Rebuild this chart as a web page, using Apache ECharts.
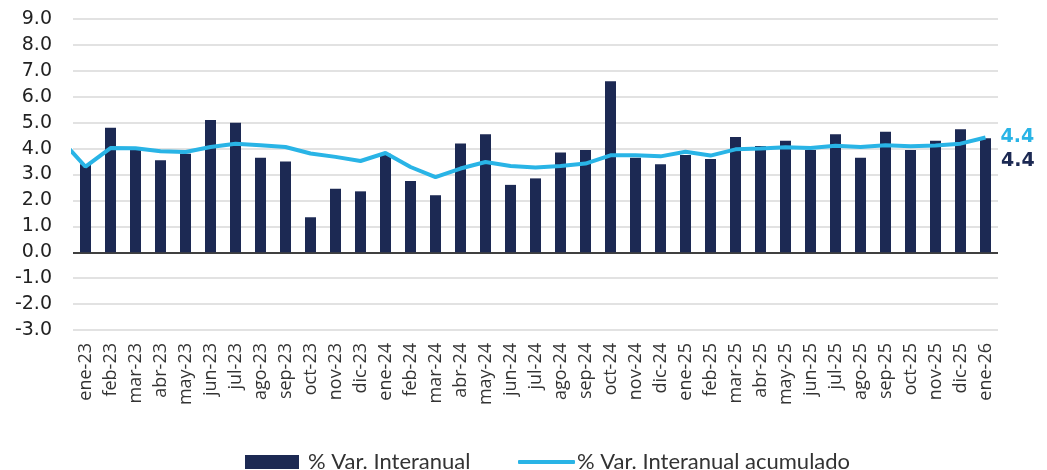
<!DOCTYPE html>
<html>
<head>
<meta charset="utf-8">
<script src="https://cdn.jsdelivr.net/npm/echarts@6/dist/echarts.min.js"></script>
<style>
  html, body { margin: 0; padding: 0; background: #fff; }
  #chart { width: 1047px; height: 470px; }
</style>
</head>
<body>
<div id="chart"></div>
<script>
// months shown on the axis
const months = [
  'ene-23','feb-23','mar-23','abr-23','may-23','jun-23','jul-23','ago-23','sep-23','oct-23','nov-23','dic-23',
  'ene-24','feb-24','mar-24','abr-24','may-24','jun-24','jul-24','ago-24','sep-24','oct-24','nov-24','dic-24',
  'ene-25','feb-25','mar-25','abr-25','may-25','jun-25','jul-25','ago-25','sep-25','oct-25','nov-25','dic-25',
  'ene-26'
];

// % Var. Interanual (bars)
const varInteranual = [
  3.4, 4.8, 3.95, 3.55, 3.8, 5.1, 5.0, 3.65, 3.5, 1.35, 2.45, 2.35,
  3.8, 2.75, 2.2, 4.2, 4.55, 2.6, 2.85, 3.85, 3.95, 6.6, 3.65, 3.4,
  3.75, 3.6, 4.45, 4.1, 4.3, 3.95, 4.55, 3.65, 4.65, 3.95, 4.3, 4.75,
  4.4
];

// % Var. Interanual acumulado (line); first value is dic-22, cut off at the left edge
const varAcumuladoPrev = 4.36;
const varAcumulado = [
  3.3, 4.02, 4.01, 3.9, 3.87, 4.06, 4.19, 4.13, 4.06, 3.81, 3.68, 3.52,
  3.83, 3.29, 2.9, 3.23, 3.48, 3.33, 3.27, 3.33, 3.42, 3.74, 3.74, 3.7,
  3.88, 3.73, 3.97, 4.0, 4.05, 4.02, 4.11, 4.06, 4.13, 4.09, 4.12, 4.19,
  4.43
];

const yTicks = [-3, -2, -1, 0, 1, 2, 3, 4, 5, 6, 7, 8, 9];

const navy = '#1c2953';
const cyan = '#29b4e6';
const last = months.length - 1;

// line points on a hidden value axis so the segment from dic-22 gets clipped
const linePoints = [[-1, varAcumuladoPrev]].concat(varAcumulado.map((v, i) => [i, v]));

const legendText = { fontFamily: 'Lato', fontSize: 22, color: '#333', padding: [0, 0, 0, 4] };

const chart = echarts.init(document.getElementById('chart'));
chart.setOption({
  animation: false,
  grid: { left: 73, right: 49, top: 19, bottom: 140 },
  legend: [
    {
      left: 240,
      top: 446,
      itemWidth: 54,
      itemHeight: 14,
      textStyle: legendText,
      data: [{ name: '% Var. Interanual', icon: 'rect' }]
    },
    {
      left: 513,
      top: 446,
      itemWidth: 57,
      itemHeight: 4,
      textStyle: Object.assign({}, legendText, { padding: [0, 0, 0, -3] }),
      data: [{ name: '% Var. Interanual acumulado', icon: 'roundRect' }]
    }
  ],
  xAxis: [
    {
      type: 'category',
      data: months,
      axisLine: { show: false, onZero: false },
      axisTick: { show: false },
      axisLabel: {
        rotate: 90,
        margin: 13,
        fontFamily: 'Open Sans',
        fontSize: 18,
        color: '#333'
      }
    },
    {
      type: 'value',
      min: -0.5,
      max: months.length - 0.5,
      show: false
    }
  ],
  yAxis: {
    type: 'value',
    min: yTicks[0],
    max: yTicks[yTicks.length - 1],
    interval: 1,
    axisLine: { show: false },
    axisTick: { show: false },
    axisLabel: {
      margin: 21,
      fontFamily: 'DejaVu Sans',
      fontSize: 19,
      color: '#222',
      formatter: v => v.toFixed(1)
    },
    splitLine: {
      lineStyle: {
        width: 1.5,
        color: yTicks.map(t => (t === 0 ? '#000' : '#d9d9d9'))
      }
    }
  },
  series: [
    {
      name: '% Var. Interanual',
      type: 'bar',
      barWidth: 11,
      itemStyle: { color: navy },
      data: varInteranual,
      label: {
        show: true,
        position: [21, 23],
        align: 'left',
        verticalAlign: 'middle',
        fontFamily: 'DejaVu Sans',
        fontWeight: 'bold',
        fontSize: 19,
        color: navy,
        formatter: p => (p.dataIndex === last ? p.value.toFixed(1) : '')
      }
    },
    {
      name: '% Var. Interanual acumulado',
      type: 'line',
      xAxisIndex: 1,
      symbol: 'none',
      lineStyle: { color: cyan, width: 4 },
      itemStyle: { color: cyan },
      data: linePoints,
      endLabel: {
        show: true,
        distance: 15,
        fontFamily: 'DejaVu Sans',
        fontWeight: 'bold',
        fontSize: 19,
        color: cyan,
        formatter: p => p.value[1].toFixed(1)
      }
    }
  ]
});
</script>
</body>
</html>
